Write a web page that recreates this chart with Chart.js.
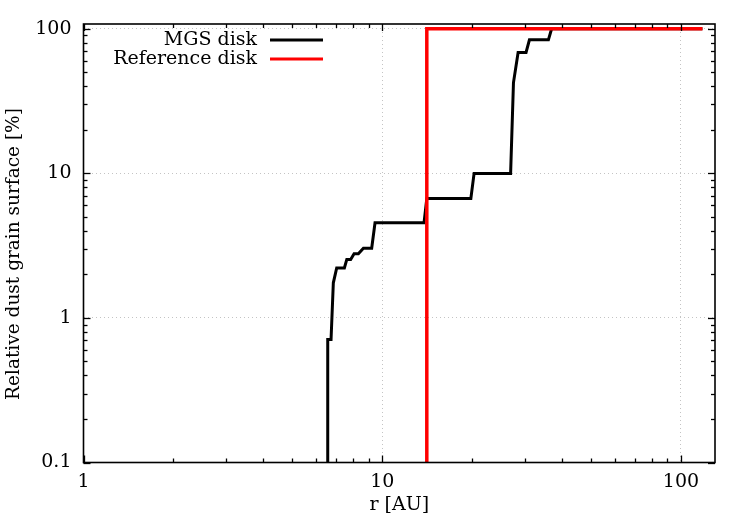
<!DOCTYPE html>
<html>
<head>
<meta charset="utf-8">
<script src="https://cdn.jsdelivr.net/npm/chart.js@4"></script>
<style>
  html, body { margin: 0; padding: 0; background: #fff; }
  #wrap { width: 750px; height: 525px; }
</style>
</head>
<body>
<div id="wrap"><canvas id="chart" width="750" height="525"></canvas></div>
<script>
/* MGS disk vs reference disk: cumulative dust grain surface */
const mgsR   = [6.57, 6.57, 6.74, 6.86, 7.04, 7.47, 7.61, 7.84, 8.05, 8.32, 8.65, 9.22, 9.46, 13.8, 14.1, 19.8, 20.3, 26.9, 27.5, 28.5, 30.3, 31.1, 36.0, 36.9, 118];
const mgsPct = [0.1, 0.71, 0.71, 1.75, 2.22, 2.22, 2.54, 2.54, 2.78, 2.78, 3.04, 3.04, 4.55, 4.55, 6.71, 6.71, 10.0, 10.0, 42.5, 68.6, 68.6, 83.9, 83.9, 100, 100];
const refR   = [14.1, 14.1, 118];
const refPct = [0.1, 100, 100];

const xTickLabels = ['1', '10', '100'];
const yTickLabels = ['0.1', '1', '10', '100'];
const yTitle = 'Relative dust grain surface [%]';

const FONT = "'DejaVu Serif', serif";
const toPts = (xs, ys) => xs.map((x, i) => ({ x: x, y: ys[i] }));
const isMajor = v => Math.abs(Math.log10(v) - Math.round(Math.log10(v))) < 1e-6;

// gnuplot-like frame: box, inward ticks on all four sides, line-sample legend
const gnuFrame = {
  id: 'gnuFrame',
  afterDraw(chart) {
    const { ctx, chartArea: a, scales: { x, y } } = chart;
    ctx.save();
    ctx.strokeStyle = '#000';
    ctx.lineWidth = 1.3;
    const tick = (x1, y1, x2, y2) => { ctx.beginPath(); ctx.moveTo(x1, y1); ctx.lineTo(x2, y2); ctx.stroke(); };
    for (let d = -2; d <= 3; d++) {
      for (let k = 1; k <= 9; k++) {
        const v = k * Math.pow(10, d);
        const len = k === 1 ? 7 : 4;
        if (v >= x.min && v <= x.max) {
          const px = Math.round(x.getPixelForValue(v)) + 0.5;
          tick(px, a.bottom, px, a.bottom - len);
          tick(px, a.top, px, a.top + len);
        }
        if (v >= y.min && v <= y.max) {
          const py = Math.round(y.getPixelForValue(v)) + 0.5;
          tick(a.left, py, a.left + len, py);
          tick(a.right, py, a.right - len, py);
        }
      }
    }
    ctx.lineWidth = 1.6;
    ctx.strokeRect(a.left, a.top, a.right - a.left, a.bottom - a.top);

    ctx.fillStyle = '#000';
    ctx.textBaseline = 'middle';

    // y axis title
    ctx.save();
    ctx.font = '18.5px ' + FONT;
    ctx.translate(14, 254);
    ctx.rotate(-Math.PI / 2);
    ctx.textAlign = 'center';
    ctx.fillText(yTitle, 0, 0);
    ctx.restore();

    // legend
    ctx.font = '19px ' + FONT;
    ctx.textAlign = 'right';
    chart.data.datasets.forEach((ds, i) => {
      const ly = 40 + i * 19;
      ctx.fillText(ds.label, 257, ly);
      ctx.strokeStyle = ds.borderColor;
      ctx.lineWidth = 3;
      tick(270, ly, 323, ly);
    });
    ctx.restore();
  }
};

new Chart(document.getElementById('chart'), {
  type: 'scatter',
  data: {
    datasets: [
      { label: 'MGS disk', data: toPts(mgsR, mgsPct), borderColor: '#000', borderWidth: 3, order: 1 },
      { label: 'Reference disk', data: toPts(refR, refPct), borderColor: '#ff0000', borderWidth: 3.5, order: 0 }
    ]
  },
  options: {
    responsive: false,
    animation: false,
    showLine: true,
    elements: { point: { radius: 0 }, line: { tension: 0 } },
    layout: { padding: { top: 24, right: 35, left: 0, bottom: 0 } },
    plugins: { legend: { display: false }, tooltip: { enabled: false } },
    scales: {
      x: {
        type: 'logarithmic', min: 1, max: 130,
        afterFit: s => { s.height = 62.5; },
        border: { display: false, dash: [1, 3] },
        grid: {
          drawTicks: false, lineWidth: 1,
          color: c => (c.tick && isMajor(c.tick.value) && c.tick.value > 1) ? '#c4c4c4' : 'rgba(0,0,0,0)'
        },
        ticks: {
          autoSkip: false, maxRotation: 0, padding: 8, color: '#000',
          font: { family: FONT, size: 19 },
          callback: v => isMajor(v) ? xTickLabels[Math.round(Math.log10(v))] : ''
        },
        title: { display: true, text: 'r [AU]', color: '#000', font: { family: FONT, size: 19 }, padding: { top: 0, bottom: 9 } }
      },
      y: {
        type: 'logarithmic', min: 0.1, max: 108,
        afterFit: s => { s.width = 83.5; },
        border: { display: false, dash: [1, 3] },
        grid: {
          drawTicks: false, lineWidth: 1,
          color: c => (c.tick && isMajor(c.tick.value) && c.tick.value > 0.11) ? '#c4c4c4' : 'rgba(0,0,0,0)'
        },
        ticks: {
          autoSkip: false, padding: 12, color: '#000',
          font: { family: FONT, size: 19 },
          callback: v => isMajor(v) ? yTickLabels[Math.round(Math.log10(v)) + 1] : ''
        }
      }
    }
  },
  plugins: [gnuFrame]
});
</script>
</body>
</html>
